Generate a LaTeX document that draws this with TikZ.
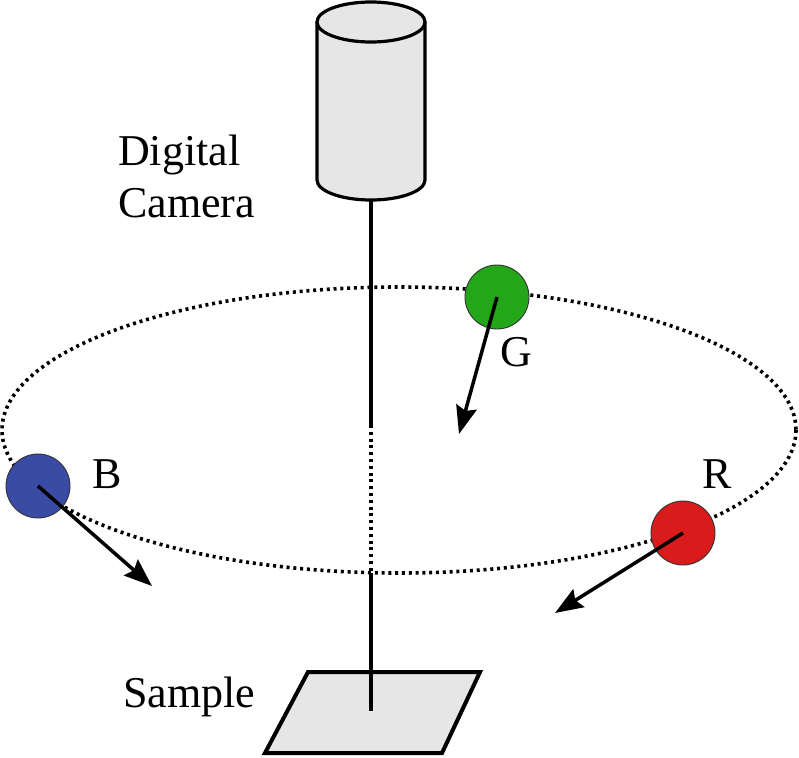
\documentclass[tikz,border=0pt]{standalone}
\usepackage{fontspec}
\setmainfont{Liberation Serif}
\usetikzlibrary{arrows.meta}
\definecolor{bodygray}{HTML}{E6E6E6}
\definecolor{sphB}{HTML}{3A4BA6}
\definecolor{sphG}{HTML}{23A617}
\definecolor{sphR}{HTML}{DA1B1B}
\tikzset{
  lbl/.style={anchor=base west, inner sep=0pt, font=\fontsize{44}{52}\selectfont},
  sphere/.style={circle, draw=black!80, line width=0.9pt, minimum size=64pt, inner sep=0pt},
  orbit/.style={line width=3.6pt, dash pattern=on 3pt off 3.8pt},
  ray/.style={line width=3.5pt, -{Stealth[length=28pt, width=21pt, inset=4pt]}},
  axis/.style={line width=3.2pt},
  axisdot/.style={line width=3.6pt, dash pattern=on 3pt off 3.8pt},
}
\begin{document}
\begin{tikzpicture}[x=1pt, y=-1pt]
\useasboundingbox (0,0) rectangle (799,757);
% camera
\fill[bodygray] (317,22) -- (317,180) arc[start angle=180, end angle=0, x radius=54, y radius=20] -- (425,22) -- cycle;
\draw[line width=3.2pt] (317,22) -- (317,180) arc[start angle=180, end angle=0, x radius=54, y radius=20] -- (425,22);
\draw[line width=3.2pt, fill=bodygray] (371,22) ellipse[x radius=54, y radius=20];
\coordinate (camB) at (371,200);
% sample
\node[inner sep=0pt] (sample) at (372,712) {};
\draw[line width=4pt, fill=bodygray] (308,672) -- (480,672) -- (442,753) -- (265,753) -- cycle;
% orbit
\coordinate (orbitC) at (399,430);
\draw[orbit] (orbitC) ellipse[x radius=397, y radius=143];
% axis
\coordinate (ax1) at (371,425);
\coordinate (ax2) at (371,573);
\coordinate (axEnd) at (371,711);
\draw[axis] (camB) -- (ax1);
\draw[axisdot] (ax1) -- (ax2);
\draw[axis] (ax2) -- (axEnd);
% spheres
\node[sphere, fill=sphB] (B) at (38,486) {};
\node[sphere, fill=sphG] (G) at (497,297) {};
\node[sphere, fill=sphR] (R) at (683,533) {};
\coordinate (Bt) at (152,586);
\coordinate (Gt) at (459,434);
\coordinate (Rt) at (555,613);
\draw[ray] (B.center) -- (Bt);
\draw[ray] (G.center) -- (Gt);
\draw[ray] (R.center) -- (Rt);
% labels
\node[lbl] (t1) at (118,165) {Digital};
\node[lbl] (t2) at (118,217) {Camera};
\node[lbl] (t3) at (123,707) {Sample};
\node[lbl] (lB) at (92,488) {B};
\node[lbl] (lG) at (500,366) {G};
\node[lbl] (lR) at (702,488) {R};
\end{tikzpicture}
\end{document}
